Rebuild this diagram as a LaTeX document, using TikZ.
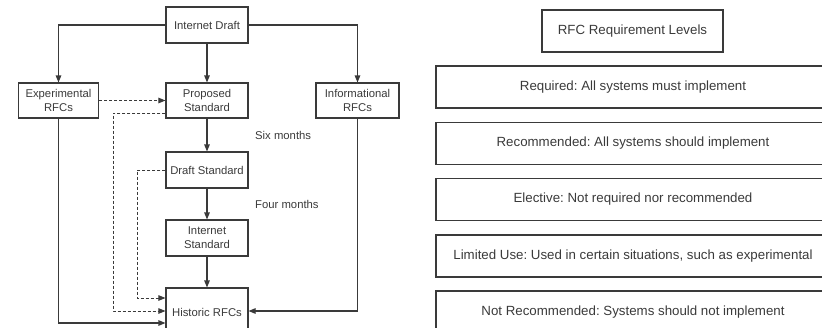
\documentclass[tikz,border=0pt]{standalone}
\usepackage{fontspec}
\setmainfont{Liberation Sans}
\usetikzlibrary{arrows.meta}
\definecolor{ink}{HTML}{3A3A3A}
\frenchspacing
\tikzset{
  box/.style={draw=ink, line width=1.1pt, minimum width=82pt, minimum height=36pt,
    inner sep=1pt, align=center, text=ink, font=\fontsize{11.3}{14}\selectfont},
  level/.style={draw=ink, line width=1.1pt, minimum width=394pt, minimum height=42pt,
    inner sep=1pt, text=ink, font=\fontsize{13.3}{15}\selectfont},
  flow/.style={draw=ink, line width=1.1pt, -{Triangle[length=7pt,width=5.5pt]}},
  alt/.style={flow, line width=0.9pt, dash pattern=on 3pt off 2pt},
  note/.style={text=ink, font=\fontsize{11.3}{14}\selectfont, anchor=west, inner sep=0pt}
}
\begin{document}
\begin{tikzpicture}[x=1pt, y=-1pt]
\useasboundingbox (0,0) rectangle (822,327);
\clip (0,0) rectangle (822,327);

% standards track
\node[box] (idraft) at (207,25) {Internet Draft};
\node[box, minimum width=80pt, minimum height=35pt] (exp) at (58.5,100.5) {Experimental\\RFCs};
\node[box, minimum height=35pt] (prop) at (207,100.5) {Proposed\\Standard};
\node[box, minimum width=83pt, minimum height=35pt] (info) at (357.5,100.5) {Informational\\RFCs};
\node[box] (draft) at (207,170) {Draft Standard};
\node[box] (istd) at (207,238) {Internet\\Standard};
\node[box, minimum height=48pt] (hist) at (207,312) {Historic RFCs};

\node[note] (six) at (255,135) {Six months};
\node[note] (four) at (255,204) {Four months};

% levels at which the side routes enter Historic RFCs
\coordinate (bendP) at (113,311);
\coordinate (bendD) at (137,298);
\coordinate (bendE) at (0,323);
\coordinate (bendI) at (0,311);

% main flow
\draw[flow] (idraft.west) -| (exp.north);
\draw[flow] (idraft.east) -| (info.north);
\draw[flow] (idraft) -- (prop);
\draw[flow] (prop) -- (draft);
\draw[flow] (draft) -- (istd);
\draw[flow] (istd) -- (hist);
\draw[flow] (exp.south) -- (exp.south |- bendE) -- (bendE -| hist.west);
\draw[flow] (info.south) -- (info.south |- bendI) -- (bendI -| hist.east);

% dashed routes
\draw[alt] (exp.east) -- (prop.west);
\draw[alt] ([yshift=-12.5pt]prop.west) -| (bendP) -- (bendP -| hist.west);
\draw[alt] (draft.west) -| (bendD) -- (bendD -| hist.west);

% requirement levels
\node[box, minimum width=181pt, minimum height=42pt, font=\fontsize{13.3}{15}\selectfont] (title) at (632.5,31) {RFC Requirement Levels};
\node[level] (req) at (633,87) {Required: All systems must implement};
\node[level] (rec) at (633,143.5) {Recommended: All systems should implement};
\node[level] (ele) at (633,199.5) {Elective: Not required nor recommended};
\node[level] (lim) at (633,256) {Limited Use: Used in certain situations, such as experimental};
\node[level] (notrec) at (633,312) {Not Recommended: Systems should not implement};
\end{tikzpicture}
\end{document}
